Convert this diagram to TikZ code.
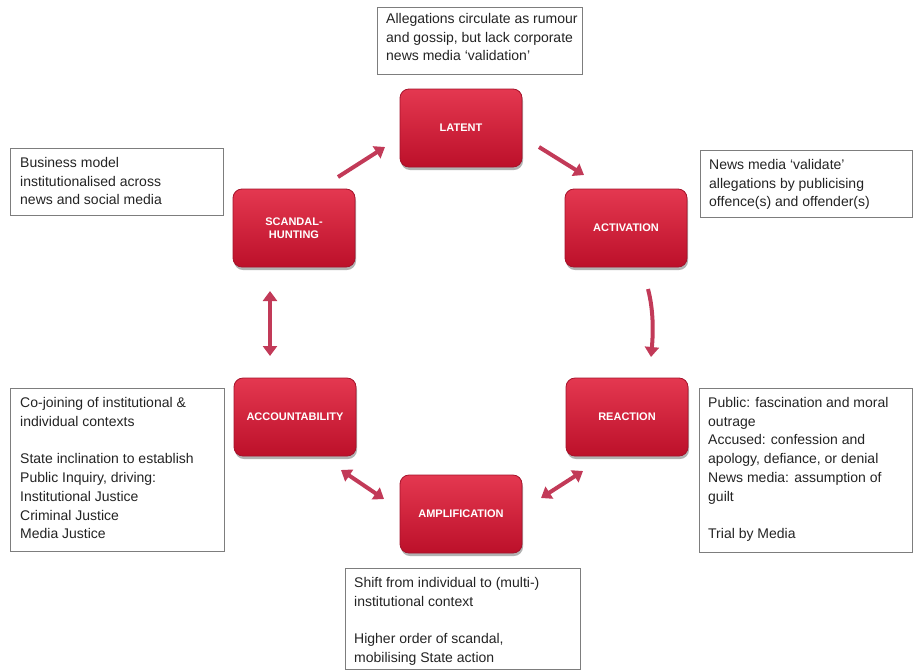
\documentclass[tikz,border=0pt]{standalone}
\usepackage{fontspec}
\setmainfont{Liberation Sans}
\usetikzlibrary{arrows.meta,shadows}
\definecolor{boxtop}{RGB}{228,56,80}
\definecolor{boxbot}{RGB}{188,16,42}
\definecolor{boxedge}{RGB}{165,18,42}
\definecolor{arrcol}{RGB}{194,58,88}
\definecolor{framecol}{RGB}{125,125,125}
\definecolor{txtcol}{RGB}{35,35,35}
\tikzset{
  stage/.style={rounded corners=9pt, minimum width=122pt, minimum height=78pt,
    top color=boxtop, bottom color=boxbot, draw=boxedge, line width=0.8pt,
    text=white, font=\fontsize{11}{13}\selectfont\bfseries, align=center,
    drop shadow={shadow xshift=1pt, shadow yshift=-3pt, opacity=0.3, fill=black}},
  link/.style={draw=arrcol, line width=4pt, -{Triangle[length=10pt,width=14pt]}},
  dlink/.style={draw=arrcol, line width=4pt, {Triangle[length=10pt,width=14pt]}-{Triangle[length=10pt,width=14pt]}},
  note/.style={anchor=north west, inner sep=0pt, text=txtcol,
    font=\fontsize{14}{18.8}\selectfont, align=left},
  notebox/.style={draw=framecol, line width=0.9pt}
}
\begin{document}
\begin{tikzpicture}[x=1pt,y=-1pt]
\useasboundingbox (0,0) rectangle (913,670);
% stages
\node[stage] (lat) at (461,128) {LATENT};
\node[stage] (act) at (626,228) {ACTIVATION};
\node[stage] (rea) at (627,417) {REACTION};
\node[stage] (amp) at (461,514) {AMPLIFICATION};
\node[stage] (acc) at (295,417) {ACCOUNTABILITY};
\node[stage] (scn) at (294,228) {SCANDAL-\\HUNTING};
% arrow end points
\coordinate (s1) at (338,177); \coordinate (s2) at (385,147);
\coordinate (l1) at (539,147); \coordinate (l2) at (584,175);
\coordinate (a1) at (648,289); \coordinate (a2) at (651,357);
\coordinate (r1) at (583,471); \coordinate (r2) at (541,498);
\coordinate (m1) at (384,499); \coordinate (m2) at (341,470);
\coordinate (c1) at (270,291); \coordinate (c2) at (270,356);
\draw[link] (s1) -- (s2);
\draw[link] (l1) -- (l2);
\draw[link] (a1) .. controls (654,312) and (653,335) .. (a2);
\draw[dlink] (r1) -- (r2);
\draw[dlink] (m1) -- (m2);
\draw[dlink] (c1) -- (c2);
% note boxes
\draw[notebox] (377,7) rectangle (582,74);
\node[note] (nlat) at (386,10) {\strut Allegations circulate as rumour\\and gossip, but lack corporate\\news media `validation'};
\draw[notebox] (10,148) rectangle (223,215);
\node[note] (nscn) at (20,154) {\strut Business model\\institutionalised across\\news and social media};
\draw[notebox] (700,150) rectangle (912,217);
\node[note] (nact) at (709,156) {\strut News media `validate'\\allegations by publicising\\offence(s) and offender(s)};
\draw[notebox] (10,388) rectangle (224,551);
\node[note] (nacc) at (20,394) {\strut Co-joining of institutional \&\\individual contexts\\[18.8pt]State inclination to establish\\Public Inquiry, driving:\\Institutional Justice\\Criminal Justice\\Media Justice};
\draw[notebox] (699,388) rectangle (912,552);
\node[note] (nrea) at (708,394) {\strut Public: fascination and moral\\outrage\\Accused: confession and\\apology, defiance, or denial\\News media: assumption of\\guilt\\[18.8pt]Trial by Media};
\draw[notebox] (345,568) rectangle (580,669);
\node[note] (namp) at (354,574) {\strut Shift from individual to (multi-)\\institutional context\\[18.8pt]Higher order of scandal,\\mobilising State action};
\end{tikzpicture}
\end{document}
